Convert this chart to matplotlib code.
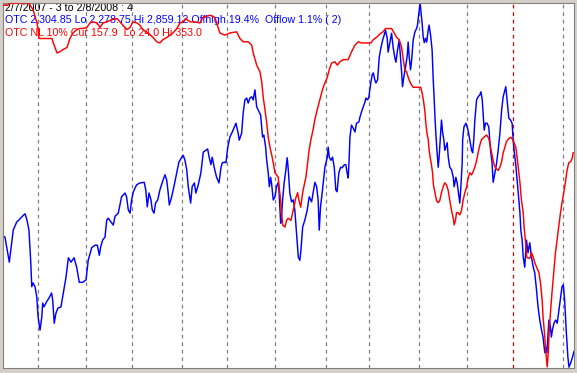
import numpy as np
import pandas as pd
import matplotlib
matplotlib.use("Agg")
import matplotlib.pyplot as plt

# ---------------- data (x in trading sessions since 2007-02-07) ----------------
start_date = "2007-02-07"
end_date = "2008-02-08"

blue_s = [0, 0.9, 2.9, 4.7, 6.3, 7.3, 8.6, 10.1, 11.0, 11.9, 12.7, 13.2, 13.8, 14.7, 15.5, 16.1, 17.0, 17.8, 18.2, 18.8,
          20.0, 21.1, 22.3, 22.8, 23.5, 24.3, 25.2, 26.6, 27.7, 28.9, 30.0, 31.2, 32.6, 33.8, 35.0, 36.6, 38.1, 39.1, 40.7, 42.2,
          43.3, 44.2, 44.8, 45.7, 46.8, 47.6, 48.3, 49.5, 50.6, 51.4, 52.9, 54.4, 56.0, 56.7, 57.5, 58.3, 59.0, 59.8, 61.3, 62.8,
          64.8, 65.5, 66.2, 67.0, 67.9, 68.5, 69.3, 70.0, 71.0, 72.0, 73.1, 74.3, 75.1, 75.8, 76.3, 77.4, 78.6, 79.7, 80.7, 82.0,
          82.7, 83.5, 84.3, 85.0, 86.1, 86.8, 87.8, 88.5, 89.6, 90.8, 91.9, 93.9, 94.6, 95.4, 96.0, 96.9, 98.0, 99.1, 100.0, 100.6,
          101.8, 102.3, 103.1, 104.1, 105.2, 106.9, 107.9, 108.4, 109.5, 110.2, 111.0, 111.8, 112.5, 113.3, 114.1, 114.8, 115.6, 116.4, 117.1, 118.2,
          119.1, 119.7, 120.5, 121.0, 121.7, 122.2, 122.8, 123.3, 124.0, 124.8, 125.5, 126.3, 126.7, 127.4, 127.8, 128.3, 129.0, 129.8, 130.4, 130.9,
          131.6, 132.4, 133.2, 133.9, 134.7, 135.5, 136.2, 136.7, 137.5, 138.5, 139.6, 140.5, 141.6, 142.3, 143.1, 143.9, 144.6, 145.1, 145.7, 146.6,
          147.7, 148.8, 149.2, 149.7, 150.5, 151.2, 152.0, 152.7, 153.3, 154.1, 154.9, 155.6, 156.6, 157.3, 157.9, 158.4, 158.8, 159.2, 159.9, 160.7,
          161.5, 162.2, 163.3, 163.8, 164.5, 165.3, 166.1, 166.5, 167.3, 167.9, 168.3, 168.8, 169.4, 169.9, 170.6, 171.1, 171.9, 172.2, 172.6, 173.4,
          174.2, 174.9, 175.5, 176.3, 176.7, 177.5, 178.3, 179.0, 179.8, 180.3, 181.0, 181.8, 182.4, 182.9, 183.3, 183.9, 184.7, 185.5, 185.9, 186.4,
          187.0, 187.5, 188.2, 189.0, 189.8, 190.2, 190.8, 191.4, 191.7, 192.3, 192.8, 193.3, 193.9, 194.4, 195.1, 195.5, 196.2, 196.9, 197.4, 197.8,
          198.2, 198.6, 199.1, 199.7, 200.1, 200.8, 201.2, 201.7, 202.3, 202.7, 203.2, 203.8, 204.3, 205.0, 205.8, 206.6, 207.0, 207.8, 208.4, 209.2,
          209.6, 210.1, 210.7, 210.9, 211.5, 212.4, 213.4, 214.2, 215.0, 215.5, 216.0, 216.5, 217.3, 218.0, 218.8, 219.3, 219.9, 220.3, 220.8, 221.4,
          222.1, 222.9, 223.7, 224.4, 224.9, 225.7, 226.5, 227.2, 228.0, 228.8, 229.5, 230.3, 230.7, 231.3, 232.1, 232.9, 233.6, 234.1, 234.5, 235.2,
          235.9, 236.7, 237.2, 237.6, 238.2, 238.7, 239.4, 240.2, 240.9, 241.7, 242.5, 243.3, 244.0, 244.8, 245.5, 246.3, 247.1, 247.8, 248.6, 249.0,
          249.6, 250.1, 250.5, 251.2, 251.6, 252.1, 252.8, 253.6, 254.3, 255.1, 255.9, 256.5, 257.1, 257.7, 258.5, 259.2, 259.7, 260.5, 261.3, 262.0]

blue_v = [2489, 2487, 2447, 2498, 2511, 2514, 2519, 2524, 2514, 2498, 2450, 2408, 2414, 2408, 2392, 2360, 2339, 2360, 2382, 2376,
          2384, 2390, 2398, 2387, 2350, 2366, 2374, 2376, 2398, 2423, 2454, 2447, 2454, 2439, 2415, 2415, 2419, 2450, 2470, 2474,
          2474, 2458, 2471, 2482, 2487, 2514, 2517, 2511, 2506, 2520, 2525, 2551, 2557, 2551, 2530, 2525, 2546, 2559, 2570, 2573,
          2574, 2562, 2535, 2557, 2546, 2530, 2525, 2541, 2546, 2562, 2574, 2586, 2578, 2557, 2538, 2551, 2570, 2589, 2606, 2614,
          2617, 2609, 2594, 2567, 2541, 2567, 2573, 2557, 2570, 2589, 2622, 2627, 2614, 2602, 2614, 2598, 2582, 2573, 2597, 2605,
          2606, 2605, 2629, 2646, 2654, 2668, 2652, 2641, 2652, 2684, 2705, 2708, 2700, 2708, 2710, 2705, 2721, 2694, 2689, 2681,
          2646, 2649, 2630, 2609, 2589, 2567, 2582, 2570, 2546, 2551, 2567, 2574, 2557, 2509, 2519, 2546, 2573, 2594, 2613, 2594,
          2557, 2543, 2546, 2530, 2493, 2455, 2450, 2466, 2503, 2514, 2530, 2551, 2543, 2557, 2574, 2567, 2546, 2498, 2535, 2562,
          2598, 2614, 2630, 2614, 2609, 2614, 2598, 2562, 2559, 2589, 2598, 2597, 2602, 2602, 2589, 2581, 2609, 2646, 2665, 2660,
          2654, 2668, 2670, 2678, 2686, 2694, 2702, 2708, 2705, 2710, 2721, 2733, 2745, 2748, 2737, 2732, 2737, 2753, 2772, 2788,
          2800, 2808, 2816, 2803, 2781, 2796, 2811, 2789, 2772, 2765, 2784, 2800, 2773, 2749, 2726, 2741, 2757, 2776, 2797, 2773,
          2753, 2768, 2800, 2813, 2819, 2824, 2843, 2859, 2848, 2827, 2805, 2796, 2803, 2797, 2816, 2824, 2808, 2784, 2737, 2710,
          2678, 2652, 2625, 2598, 2614, 2652, 2673, 2654, 2641, 2625, 2630, 2637, 2614, 2598, 2594, 2582, 2567, 2582, 2573, 2551,
          2541, 2567, 2605, 2641, 2662, 2668, 2657, 2641, 2625, 2621, 2641, 2673, 2705, 2710, 2713, 2718, 2705, 2684, 2657, 2668,
          2668, 2662, 2625, 2605, 2574, 2589, 2605, 2625, 2652, 2689, 2710, 2721, 2726, 2705, 2676, 2673, 2668, 2641, 2625, 2605,
          2578, 2546, 2525, 2498, 2482, 2455, 2439, 2482, 2462, 2478, 2455, 2439, 2430, 2403, 2376, 2355, 2339, 2328, 2303, 2312,
          2303, 2334, 2355, 2344, 2328, 2339, 2350, 2355, 2350, 2371, 2392, 2408, 2411, 2387, 2334, 2296, 2280, 2287, 2296, 2305]

red_s = [0, 2.3, 3.2, 11.5, 12.4, 13.8, 15.6, 16.1, 16.5, 22.5, 22.9, 24.8, 26.1, 27.5, 29.4, 30.7, 32.1, 33.9, 35.3, 36.7,
         38.5, 39.9, 41.3, 43.1, 44.5, 45.9, 47.7, 50.0, 52.3, 53.7, 55.0, 56.9, 58.3, 59.6, 61.5, 62.8, 64.2, 66.5, 68.8, 70.6,
         72.0, 73.4, 75.2, 76.6, 78.0, 79.8, 81.2, 82.6, 83.9, 85.8, 88.1, 90.4, 91.7, 95.0, 97.2, 99.5, 101.8, 104.1, 107.2, 108.7,
         110.2, 112.5, 114.1, 114.8, 116.4, 117.9, 118.7, 119.4, 120.2, 121.0, 121.7, 122.5, 123.3, 124.0, 124.8, 125.5, 126.3, 126.7, 127.4, 127.8,
         128.3, 129.4, 130.1, 130.9, 132.1, 132.9, 133.5, 134.3, 135.2, 135.8, 136.6, 137.5, 138.2, 139.0, 139.8, 140.5, 141.3, 142.3, 143.1, 144.2,
         145.4, 146.6, 147.7, 148.8, 149.7, 150.8, 152.3, 153.4, 154.6, 156.1, 158.4, 159.9, 161.5, 163.0, 164.5, 166.8, 168.8, 169.9, 171.4, 172.9,
         174.4, 175.5, 177.1, 178.3, 179.5, 180.6, 181.8, 182.9, 183.6, 184.4, 185.2, 185.9, 186.7, 187.5, 188.2, 191.7, 192.3, 193.0, 193.6, 194.0,
         194.5, 195.1, 195.5, 196.0, 196.6, 197.1, 197.5, 198.2, 198.9, 199.7, 200.4, 201.2, 201.9, 202.7, 203.5, 204.3, 205.0, 205.8, 206.6, 207.0,
         207.6, 208.1, 208.8, 209.6, 210.4, 211.1, 211.9, 212.7, 213.4, 214.2, 215.0, 215.7, 216.5, 217.3, 218.0, 218.8, 219.6, 220.6, 221.9, 222.9,
         223.7, 224.6, 225.4, 226.1, 227.2, 228.0, 228.8, 229.5, 230.3, 231.0, 232.2, 233.0, 233.8, 234.5, 235.3, 235.9, 236.4, 237.2, 237.9, 238.7,
         239.1, 239.8, 240.3, 241.0, 241.8, 242.5, 243.3, 244.0, 244.8, 245.9, 246.6, 247.4, 247.8, 248.6, 249.1, 249.7, 250.2, 250.6, 251.2, 251.9,
         252.7, 253.5, 254.2, 255.0, 255.8, 256.5, 257.3, 258.1, 258.8, 259.6, 260.5, 261.3, 261.6]

red_v = [351, 351, 353, 353, 351, 347, 335, 329, 321, 321, 318, 308, 309, 311, 313, 321, 326, 329, 330, 330,
         331, 335, 336, 335, 331, 335, 336, 338, 339, 336, 333, 329, 331, 336, 335, 333, 329, 326, 322, 318,
         317, 320, 322, 324, 326, 330, 335, 336, 339, 336, 336, 335, 340, 342, 340, 326, 324, 326, 327, 321,
         318, 318, 315, 308, 297, 291, 282, 268, 257, 245, 232, 223, 216, 209, 200, 198, 196, 187, 175, 164,
         153, 151, 157, 159, 157, 164, 169, 177, 182, 175, 169, 182, 189, 196, 209, 221, 230, 239, 248, 257,
         266, 275, 281, 286, 293, 299, 300, 297, 300, 302, 302, 309, 315, 318, 317, 317, 317, 320, 322, 325,
         327, 330, 330, 330, 326, 322, 320, 313, 303, 293, 291, 286, 282, 279, 277, 277, 272, 264, 255, 245,
         236, 230, 221, 214, 207, 200, 189, 182, 175, 173, 175, 182, 187, 191, 189, 184, 175, 166, 159, 153,
         157, 164, 164, 162, 166, 175, 182, 187, 195, 200, 198, 201, 205, 211, 218, 225, 230, 232, 234, 231,
         223, 214, 207, 204, 202, 205, 210, 218, 223, 228, 231, 232, 230, 227, 223, 214, 205, 191, 175, 164,
         151, 137, 124, 123, 123, 128, 124, 119, 115, 110, 101, 85, 70, 52, 38, 25, 38, 56, 74, 92,
         110, 128, 139, 151, 164, 173, 182, 192, 202, 209, 210, 214, 218]

otc_lo, otc_hi = 2278.75, 2859.12
nl_lo, nl_hi = 24.0, 353.0

title_lines = [
    ("2/7/2007 - 3 to 2/8/2008 : 4", "#000000"),
    ("OTC 2,304.85 Lo 2,278.75 Hi 2,859.12 Offhigh 19.4%  Offlow 1.1% ( 2)", "#0000ff"),
    ("OTC NL 10% Cur 157.9  Lo 24.0 Hi 353.0", "#ff0000"),
]

assert len(blue_s) == len(blue_v), (len(blue_s), len(blue_v))
assert len(red_s) == len(red_v), (len(red_s), len(red_v))

# ---------------- figure ----------------
W, H = 577, 373
fig = plt.figure(figsize=(W / 100, H / 100), dpi=100, facecolor="#d4d0c8")
ax = fig.add_axes([3 / W, 5 / H, 571 / W, 365 / H])
ax.set_facecolor("white")
dates = pd.bdate_range(start_date, end_date)
ax.set_xlim(0, len(dates) - 1)
ax.set_ylim(otc_lo, otc_hi)
ax.set_xticks([])
ax.set_yticks([])
for sp in ax.spines.values():
    sp.set_color("#808080")
    sp.set_linewidth(0.8)

# month gridlines at first session of each month
months = dates.month
for i in range(1, len(dates)):
    if months[i] != months[i - 1]:
        col = "#e00000" if (dates[i].month == 1) else "#808080"
        ax.axvline(i, color=col, lw=0.9, ls=(0, (3, 3)), zorder=0.5)

# text (drawn under the lines)
fs = 7.7
ys = [11, 23, 36]
for (txt, col), yb in zip(title_lines, ys):
    ax.text(5 / W, 1 - yb / H, txt, transform=fig.transFigure, color=col,
            fontsize=fs, family="Liberation Sans", va="baseline", ha="left", zorder=1)

ax.plot(blue_s, blue_v, color="#0000ff", lw=1.05, zorder=2)

ax2 = ax.twinx()
ax2.set_ylim(nl_lo, nl_hi)
ax2.set_yticks([])
for sp in ax2.spines.values():
    sp.set_visible(False)
ax2.plot(red_s, red_v, color="#ff0000", lw=1.05, zorder=3)

fig.savefig("out.png", dpi=100, facecolor=fig.get_facecolor())
